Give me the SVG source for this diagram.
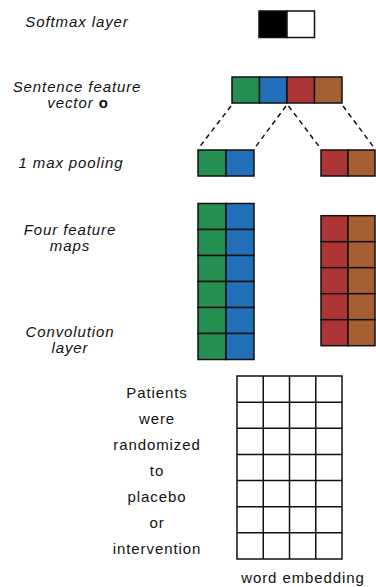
<svg xmlns="http://www.w3.org/2000/svg" width="376" height="587" viewBox="0 0 376 587">
<style>
  .lbl { font-family: "Liberation Sans", Arial, sans-serif; font-size: 15px; font-style: italic; fill: #111; text-anchor: middle; letter-spacing: 0.9px; }
  .word { font-family: "Liberation Sans", Arial, sans-serif; font-size: 15px; fill: #111; text-anchor: middle; letter-spacing: 0.9px; }
  .bold { font-style: normal; font-weight: bold; }
  .cell { stroke: #111; stroke-width: 1.5; }
  .g { fill: #268F52; }
  .b { fill: #2270BA; }
  .r { fill: #AE3535; }
  .o { fill: #A65F33; }
  .w { fill: #fff; }
  .k { fill: #000; }
  .dash { stroke: #111; stroke-width: 1.5; stroke-dasharray: 5 4; fill: none; }
  .grid { stroke: #111; stroke-width: 1.5; fill: none; }
</style>
<rect width="376" height="587" fill="#fff"/>

<g id="labels">
  <text class="lbl" x="77" y="27">Softmax layer</text>
  <text class="lbl" x="77" y="91.5">Sentence feature</text>
  <text class="lbl" x="78" y="107.5">vector <tspan class="bold">o</tspan></text>
  <text class="lbl" x="71" y="168">1 max pooling</text>
  <text class="lbl" x="70" y="235">Four feature</text>
  <text class="lbl" x="70" y="251">maps</text>
  <text class="lbl" x="70" y="337">Convolution</text>
  <text class="lbl" x="70" y="353">layer</text>
</g>

<g id="softmax">
  <rect class="cell k" x="259" y="11" width="28" height="26.5"/>
  <rect class="cell w" x="287" y="11" width="27.5" height="26.5"/>
</g>

<g id="sentence-vector">
  <rect class="cell g" x="232" y="77" width="27.5" height="26"/>
  <rect class="cell b" x="259.5" y="77" width="27.5" height="26"/>
  <rect class="cell r" x="287" y="77" width="27.5" height="26"/>
  <rect class="cell o" x="314.5" y="77" width="27.5" height="26"/>
</g>

<g id="connectors">
  <line class="dash" x1="231" y1="106" x2="198" y2="149"/>
  <line class="dash" x1="286" y1="106" x2="254" y2="149"/>
  <line class="dash" x1="288.5" y1="106" x2="321" y2="149"/>
  <line class="dash" x1="343" y1="106" x2="375" y2="149"/>
</g>

<g id="pool-left">
  <rect class="cell g" x="198" y="150" width="28" height="26"/>
  <rect class="cell b" x="226" y="150" width="28" height="26"/>
</g>

<g id="pool-right">
  <rect class="cell r" x="321" y="150" width="27" height="26"/>
  <rect class="cell o" x="348" y="150" width="27" height="26"/>
</g>

<g id="feature-maps-left">
  <rect class="cell g" x="198" y="203.5" width="28" height="26"/>
  <rect class="cell b" x="226" y="203.5" width="28" height="26"/>
  <rect class="cell g" x="198" y="229.5" width="28" height="26"/>
  <rect class="cell b" x="226" y="229.5" width="28" height="26"/>
  <rect class="cell g" x="198" y="255.5" width="28" height="26"/>
  <rect class="cell b" x="226" y="255.5" width="28" height="26"/>
  <rect class="cell g" x="198" y="281.5" width="28" height="26"/>
  <rect class="cell b" x="226" y="281.5" width="28" height="26"/>
  <rect class="cell g" x="198" y="307.5" width="28" height="26"/>
  <rect class="cell b" x="226" y="307.5" width="28" height="26"/>
  <rect class="cell g" x="198" y="333.5" width="28" height="26"/>
  <rect class="cell b" x="226" y="333.5" width="28" height="26"/>
</g>

<g id="feature-maps-right">
  <rect class="cell r" x="321" y="215.7" width="27" height="26"/>
  <rect class="cell o" x="348" y="215.7" width="27" height="26"/>
  <rect class="cell r" x="321" y="241.7" width="27" height="26"/>
  <rect class="cell o" x="348" y="241.7" width="27" height="26"/>
  <rect class="cell r" x="321" y="267.7" width="27" height="26"/>
  <rect class="cell o" x="348" y="267.7" width="27" height="26"/>
  <rect class="cell r" x="321" y="293.7" width="27" height="26"/>
  <rect class="cell o" x="348" y="293.7" width="27" height="26"/>
  <rect class="cell r" x="321" y="319.7" width="27" height="26"/>
  <rect class="cell o" x="348" y="319.7" width="27" height="26"/>
</g>

<g id="word-embedding">
  <rect class="grid" x="237" y="376" width="105" height="183" fill="#fff"/>
  <path class="grid" d="M263.25 376V559M289.5 376V559M315.75 376V559M237 402.14H342M237 428.29H342M237 454.43H342M237 480.57H342M237 506.71H342M237 532.86H342"/>
  <text class="word" x="303" y="583">word embedding</text>
</g>

<g id="sentence">
  <text class="word" x="157" y="398">Patients</text>
  <text class="word" x="157" y="424">were</text>
  <text class="word" x="157" y="450">randomized</text>
  <text class="word" x="157" y="476">to</text>
  <text class="word" x="157" y="502">placebo</text>
  <text class="word" x="157" y="528">or</text>
  <text class="word" x="157" y="554">intervention</text>
</g>
</svg>
